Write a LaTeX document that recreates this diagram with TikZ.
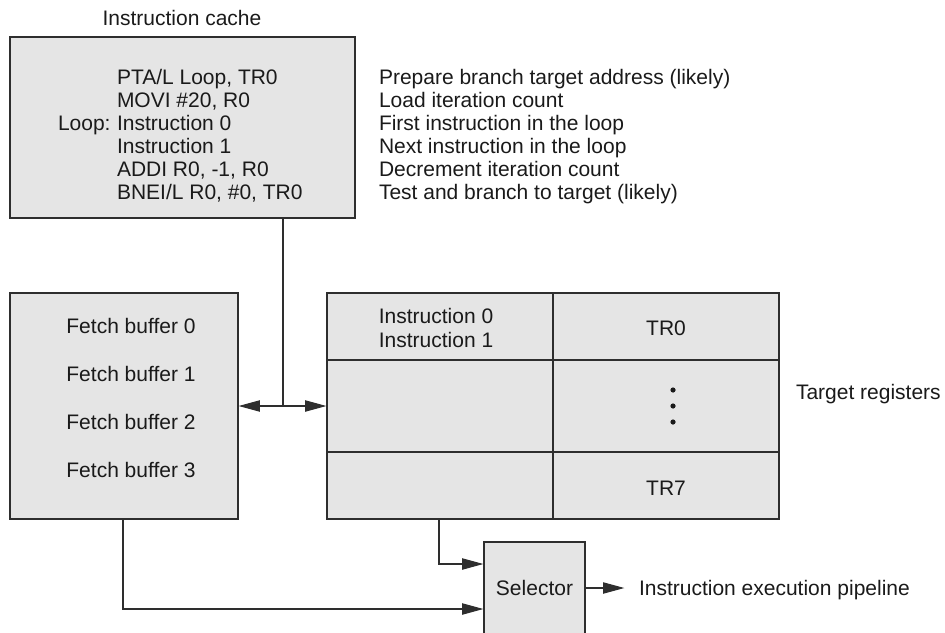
\documentclass[tikz,border=0pt]{standalone}
\usepackage{fontspec}
\setmainfont{Liberation Sans}
\usetikzlibrary{arrows.meta,fit,calc}
\definecolor{boxfill}{HTML}{E5E5E5}
\definecolor{ink}{HTML}{1A1A1A}
\definecolor{edge}{HTML}{2E2E2E}
\tikzset{
  box/.style={draw=edge, fill=boxfill, line width=0.9pt, inner sep=0pt},
  txt/.style={inner sep=0pt, outer sep=0pt, text=ink, font=\fontsize{15.75}{18}\selectfont},
  arr/.style={draw=edge, line width=0.8pt, -{Triangle[length=16pt,width=8.5pt]}},
  wire/.style={draw=edge, line width=0.8pt},
}
\begin{document}
\begin{tikzpicture}[x=0.75pt,y=-0.75pt]
\useasboundingbox (0,0) rectangle (945,632);
\clip (0,0) rectangle (945,632);

% Instruction cache
\node[txt, anchor=base] (cachelabel) at (182,25) {Instruction cache};
\node[box, fit={(10,37) (355,218)}] (cache) {};
\node[txt, anchor=base west] (c1) at (117,84) {PTA/L Loop, TR0};
\node[txt, anchor=base west] (c2) at (117,107) {MOVI \#20, R0};
\node[txt, anchor=base west] (c3) at (117,130) {Instruction 0};
\node[txt, anchor=base west] (c3l) at (58,130) {Loop:};
\node[txt, anchor=base west] (c4) at (117,153) {Instruction 1};
\node[txt, anchor=base west] (c5) at (117,176) {ADDI R0, -1, R0};
\node[txt, anchor=base west] (c6) at (117,199) {BNEI/L R0, \#0, TR0};

\node[txt, anchor=base west] (m1) at (379,84) {Prepare branch target address (likely)};
\node[txt, anchor=base west] (m2) at (379,107) {Load iteration count};
\node[txt, anchor=base west] (m3) at (379,130) {First instruction in the loop};
\node[txt, anchor=base west] (m4) at (379,153) {Next instruction in the loop};
\node[txt, anchor=base west] (m5) at (379,176) {Decrement iteration count};
\node[txt, anchor=base west] (m6) at (379,199) {Test and branch to target (likely)};

% Fetch buffers
\node[box, fit={(10,293) (238,519)}] (fetch) {};
\node[txt] (f0) at (131,326) {Fetch buffer 0};
\node[txt] (f1) at (131,374) {Fetch buffer 1};
\node[txt] (f2) at (131,422) {Fetch buffer 2};
\node[txt] (f3) at (131,470) {Fetch buffer 3};

% Target register table
\node[box, fit={(327,293) (553,360)}] (i0) {};
\node[box, fit={(327,360) (553,452)}] (i1) {};
\node[box, fit={(327,452) (553,519)}] (i2) {};
\node[box, fit={(553,293) (779,360)}] (t0) {};
\node[box, fit={(553,360) (779,452)}] (t1) {};
\node[box, fit={(553,452) (779,519)}] (t2) {};
\node[txt] (i0a) at (436,316) {Instruction 0};
\node[txt] (i0b) at (436,340) {Instruction 1};
\node[txt] (tr0) at (666,328) {TR0};
\node[txt] (tr7) at (666,488) {TR7};
\fill[ink] (673,390) circle (2.6) (673,406) circle (2.6) (673,422) circle (2.6);
\node[txt, anchor=base west] (treg) at (796,399) {Target registers};

% Selector
\node[box, fit={(484,542) (585,660)}] (sel) {};
\node[txt] (seltext) at (534.5,588) {Selector};
\node[txt, anchor=base west] (pipe) at (639,595) {Instruction execution pipeline};

% Connectors
\coordinate (j) at (283,406);
\draw[wire] (cache.south -| j) -- (j);
\draw[arr] (j) -- (fetch.east |- j);
\draw[arr] (j) -- (i1.west |- j);
\coordinate (ya) at (0,564);
\coordinate (yb) at (0,609);
\draw[arr] (i2.south -| 439,0) |- (sel.west |- ya);
\draw[arr] (fetch.south -| 123,0) |- (sel.west |- yb);
\draw[arr, shorten >=11pt] (sel.east |- seltext) -- (pipe.west |- seltext);
\end{tikzpicture}
\end{document}
